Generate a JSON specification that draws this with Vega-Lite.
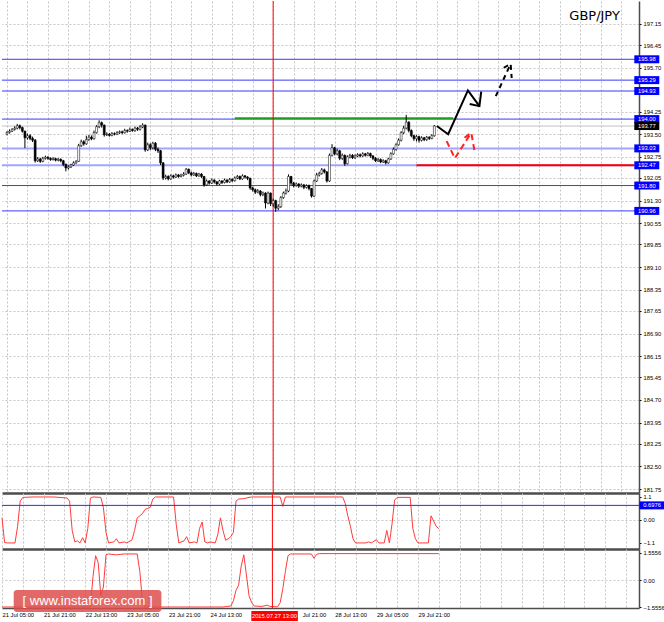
{
"$schema":"https://vega.github.io/schema/vega-lite/v6.json",
"padding":0,
"background":"#ffffff",
"spacing":0,
"bounds":"flush",
"config":{"view":{"stroke":null},"font":"Liberation Sans","axis":{"labelFont":"Liberation Sans","labelFontSize":5.8,"labelColor":"#000000","labelOverlap":false}},
"datasets":{
"candles":[
{"t":0,"o":193.50,"h":193.60,"l":193.46,"c":193.56},
{"t":1,"o":193.56,"h":193.66,"l":193.52,"c":193.60},
{"t":2,"o":193.60,"h":193.70,"l":193.57,"c":193.66},
{"t":3,"o":193.66,"h":193.76,"l":193.62,"c":193.70},
{"t":4,"o":193.70,"h":193.84,"l":193.66,"c":193.78},
{"t":5,"o":193.78,"h":193.82,"l":193.66,"c":193.72},
{"t":6,"o":193.72,"h":193.75,"l":193.55,"c":193.60},
{"t":7,"o":193.60,"h":193.62,"l":193.04,"c":193.38},
{"t":8,"o":193.38,"h":193.52,"l":193.32,"c":193.45},
{"t":9,"o":193.45,"h":193.50,"l":193.30,"c":193.36},
{"t":10,"o":193.36,"h":193.42,"l":193.24,"c":193.30},
{"t":11,"o":193.30,"h":193.34,"l":192.56,"c":192.62},
{"t":12,"o":192.62,"h":192.74,"l":192.58,"c":192.68},
{"t":13,"o":192.68,"h":192.72,"l":192.55,"c":192.60},
{"t":14,"o":192.60,"h":192.75,"l":192.57,"c":192.70},
{"t":15,"o":192.70,"h":192.79,"l":192.66,"c":192.74},
{"t":16,"o":192.74,"h":192.77,"l":192.65,"c":192.70},
{"t":17,"o":192.70,"h":192.73,"l":192.62,"c":192.66},
{"t":18,"o":192.66,"h":192.74,"l":192.63,"c":192.69},
{"t":19,"o":192.69,"h":192.72,"l":192.60,"c":192.64},
{"t":20,"o":192.64,"h":192.71,"l":192.60,"c":192.67},
{"t":21,"o":192.67,"h":192.70,"l":192.57,"c":192.62},
{"t":22,"o":192.62,"h":192.65,"l":192.44,"c":192.50},
{"t":23,"o":192.50,"h":192.53,"l":192.27,"c":192.38},
{"t":24,"o":192.38,"h":192.47,"l":192.33,"c":192.42},
{"t":25,"o":192.42,"h":192.52,"l":192.38,"c":192.48},
{"t":26,"o":192.48,"h":192.60,"l":192.45,"c":192.55},
{"t":27,"o":192.55,"h":192.64,"l":192.52,"c":192.60},
{"t":28,"o":192.60,"h":193.18,"l":192.58,"c":193.12},
{"t":29,"o":193.12,"h":193.32,"l":193.08,"c":193.25},
{"t":30,"o":193.25,"h":193.30,"l":193.12,"c":193.18},
{"t":31,"o":193.18,"h":193.45,"l":193.15,"c":193.32},
{"t":32,"o":193.32,"h":193.48,"l":193.28,"c":193.40},
{"t":33,"o":193.40,"h":193.46,"l":193.30,"c":193.35},
{"t":34,"o":193.35,"h":193.62,"l":193.32,"c":193.55},
{"t":35,"o":193.55,"h":193.80,"l":193.52,"c":193.75},
{"t":36,"o":193.75,"h":193.96,"l":193.70,"c":193.88},
{"t":37,"o":193.88,"h":193.92,"l":193.72,"c":193.80},
{"t":38,"o":193.80,"h":193.82,"l":193.42,"c":193.48},
{"t":39,"o":193.48,"h":193.56,"l":193.44,"c":193.50},
{"t":40,"o":193.50,"h":193.54,"l":193.42,"c":193.46},
{"t":41,"o":193.46,"h":193.57,"l":193.43,"c":193.52},
{"t":42,"o":193.52,"h":193.56,"l":193.46,"c":193.50},
{"t":43,"o":193.50,"h":193.60,"l":193.47,"c":193.55},
{"t":44,"o":193.55,"h":193.62,"l":193.51,"c":193.58},
{"t":45,"o":193.58,"h":193.62,"l":193.50,"c":193.55},
{"t":46,"o":193.55,"h":193.68,"l":193.52,"c":193.62},
{"t":47,"o":193.62,"h":193.66,"l":193.55,"c":193.60},
{"t":48,"o":193.60,"h":193.72,"l":193.57,"c":193.66},
{"t":49,"o":193.66,"h":193.69,"l":193.58,"c":193.62},
{"t":50,"o":193.62,"h":193.75,"l":193.58,"c":193.70},
{"t":51,"o":193.70,"h":193.74,"l":193.61,"c":193.66},
{"t":52,"o":193.66,"h":193.80,"l":193.62,"c":193.74},
{"t":53,"o":193.74,"h":193.86,"l":193.70,"c":193.80},
{"t":54,"o":193.80,"h":193.82,"l":192.92,"c":192.98},
{"t":55,"o":192.98,"h":193.22,"l":192.94,"c":193.15},
{"t":56,"o":193.15,"h":193.20,"l":192.98,"c":193.05},
{"t":57,"o":193.05,"h":193.25,"l":193.00,"c":193.20},
{"t":58,"o":193.20,"h":193.24,"l":192.94,"c":193.00},
{"t":59,"o":193.00,"h":193.06,"l":192.88,"c":192.95},
{"t":60,"o":192.95,"h":192.98,"l":192.48,"c":192.55},
{"t":61,"o":192.55,"h":192.58,"l":191.98,"c":192.05},
{"t":62,"o":192.05,"h":192.16,"l":192.00,"c":192.10},
{"t":63,"o":192.10,"h":192.14,"l":191.97,"c":192.02},
{"t":64,"o":192.02,"h":192.17,"l":191.99,"c":192.12},
{"t":65,"o":192.12,"h":192.16,"l":192.03,"c":192.08},
{"t":66,"o":192.08,"h":192.20,"l":192.05,"c":192.15},
{"t":67,"o":192.15,"h":192.18,"l":192.06,"c":192.10},
{"t":68,"o":192.10,"h":192.19,"l":192.07,"c":192.14},
{"t":69,"o":192.14,"h":192.24,"l":192.10,"c":192.18},
{"t":70,"o":192.18,"h":192.38,"l":192.15,"c":192.34},
{"t":71,"o":192.34,"h":192.36,"l":192.18,"c":192.22},
{"t":72,"o":192.22,"h":192.26,"l":192.10,"c":192.15},
{"t":73,"o":192.15,"h":192.25,"l":192.12,"c":192.20},
{"t":74,"o":192.20,"h":192.23,"l":192.08,"c":192.12},
{"t":75,"o":192.12,"h":192.22,"l":192.09,"c":192.18},
{"t":76,"o":192.18,"h":192.21,"l":192.05,"c":192.10},
{"t":77,"o":192.10,"h":192.12,"l":191.76,"c":191.82},
{"t":78,"o":191.82,"h":192.00,"l":191.79,"c":191.95},
{"t":79,"o":191.95,"h":191.98,"l":191.83,"c":191.88},
{"t":80,"o":191.88,"h":192.03,"l":191.85,"c":191.98},
{"t":81,"o":191.98,"h":192.01,"l":191.87,"c":191.92},
{"t":82,"o":191.92,"h":191.95,"l":191.80,"c":191.85},
{"t":83,"o":191.85,"h":191.99,"l":191.82,"c":191.95},
{"t":84,"o":191.95,"h":191.98,"l":191.85,"c":191.90},
{"t":85,"o":191.90,"h":192.03,"l":191.87,"c":191.98},
{"t":86,"o":191.98,"h":192.01,"l":191.88,"c":191.92},
{"t":87,"o":191.92,"h":192.05,"l":191.89,"c":192.00},
{"t":88,"o":192.00,"h":192.04,"l":191.92,"c":191.96},
{"t":89,"o":191.96,"h":192.10,"l":191.93,"c":192.05},
{"t":90,"o":192.05,"h":192.15,"l":192.01,"c":192.10},
{"t":91,"o":192.10,"h":192.13,"l":191.98,"c":192.02},
{"t":92,"o":192.02,"h":192.17,"l":191.99,"c":192.12},
{"t":93,"o":192.12,"h":192.15,"l":192.03,"c":192.08},
{"t":94,"o":192.08,"h":192.11,"l":191.98,"c":192.04},
{"t":95,"o":192.04,"h":192.06,"l":191.66,"c":191.72},
{"t":96,"o":191.72,"h":191.76,"l":191.60,"c":191.66},
{"t":97,"o":191.66,"h":191.70,"l":191.52,"c":191.58},
{"t":98,"o":191.58,"h":191.68,"l":191.54,"c":191.62},
{"t":99,"o":191.62,"h":191.65,"l":191.44,"c":191.50},
{"t":100,"o":191.50,"h":191.60,"l":191.45,"c":191.55},
{"t":101,"o":191.55,"h":191.58,"l":191.04,"c":191.22},
{"t":102,"o":191.22,"h":191.60,"l":191.18,"c":191.55},
{"t":103,"o":191.55,"h":191.57,"l":191.12,"c":191.20},
{"t":104,"o":191.20,"h":191.36,"l":191.10,"c":191.30},
{"t":105,"o":191.30,"h":191.33,"l":190.93,"c":191.05},
{"t":106,"o":191.05,"h":191.18,"l":190.98,"c":191.10},
{"t":107,"o":191.10,"h":191.45,"l":191.06,"c":191.40},
{"t":108,"o":191.40,"h":191.60,"l":191.36,"c":191.55},
{"t":109,"o":191.55,"h":191.70,"l":191.50,"c":191.62},
{"t":110,"o":191.62,"h":192.17,"l":191.58,"c":192.10},
{"t":111,"o":192.10,"h":192.12,"l":191.82,"c":191.88},
{"t":112,"o":191.88,"h":191.92,"l":191.74,"c":191.80},
{"t":113,"o":191.80,"h":191.90,"l":191.76,"c":191.85},
{"t":114,"o":191.85,"h":191.88,"l":191.72,"c":191.78},
{"t":115,"o":191.78,"h":191.87,"l":191.74,"c":191.82},
{"t":116,"o":191.82,"h":191.85,"l":191.68,"c":191.74},
{"t":117,"o":191.74,"h":191.84,"l":191.70,"c":191.80},
{"t":118,"o":191.80,"h":191.83,"l":191.64,"c":191.70},
{"t":119,"o":191.70,"h":191.72,"l":191.40,"c":191.45},
{"t":120,"o":191.45,"h":192.00,"l":191.42,"c":191.95},
{"t":121,"o":191.95,"h":192.22,"l":191.92,"c":192.15},
{"t":122,"o":192.15,"h":192.26,"l":192.10,"c":192.20},
{"t":123,"o":192.20,"h":192.38,"l":192.16,"c":192.32},
{"t":124,"o":192.32,"h":192.36,"l":192.20,"c":192.25},
{"t":125,"o":192.25,"h":192.28,"l":191.90,"c":191.95},
{"t":126,"o":191.95,"h":192.86,"l":191.92,"c":192.80},
{"t":127,"o":192.80,"h":193.17,"l":192.76,"c":193.05},
{"t":128,"o":193.05,"h":193.08,"l":192.80,"c":192.85},
{"t":129,"o":192.85,"h":193.02,"l":192.80,"c":192.95},
{"t":130,"o":192.95,"h":192.98,"l":192.64,"c":192.70},
{"t":131,"o":192.70,"h":192.86,"l":192.65,"c":192.80},
{"t":132,"o":192.80,"h":192.83,"l":192.45,"c":192.52},
{"t":133,"o":192.52,"h":192.80,"l":192.50,"c":192.75},
{"t":134,"o":192.75,"h":192.85,"l":192.70,"c":192.80},
{"t":135,"o":192.80,"h":192.84,"l":192.68,"c":192.72},
{"t":136,"o":192.72,"h":192.83,"l":192.68,"c":192.78},
{"t":137,"o":192.78,"h":192.87,"l":192.74,"c":192.82},
{"t":138,"o":192.82,"h":192.86,"l":192.73,"c":192.78},
{"t":139,"o":192.78,"h":192.90,"l":192.75,"c":192.85},
{"t":140,"o":192.85,"h":192.88,"l":192.76,"c":192.80},
{"t":141,"o":192.80,"h":192.91,"l":192.77,"c":192.86},
{"t":142,"o":192.86,"h":192.89,"l":192.72,"c":192.78},
{"t":143,"o":192.78,"h":192.81,"l":192.64,"c":192.70},
{"t":144,"o":192.70,"h":192.74,"l":192.58,"c":192.62},
{"t":145,"o":192.62,"h":192.71,"l":192.58,"c":192.66},
{"t":146,"o":192.66,"h":192.70,"l":192.54,"c":192.58},
{"t":147,"o":192.58,"h":192.67,"l":192.55,"c":192.62},
{"t":148,"o":192.62,"h":192.65,"l":192.50,"c":192.55},
{"t":149,"o":192.55,"h":192.72,"l":192.52,"c":192.68},
{"t":150,"o":192.68,"h":192.90,"l":192.65,"c":192.85},
{"t":151,"o":192.85,"h":193.06,"l":192.82,"c":193.00},
{"t":152,"o":193.00,"h":193.20,"l":192.96,"c":193.15},
{"t":153,"o":193.15,"h":193.36,"l":193.12,"c":193.30},
{"t":154,"o":193.30,"h":193.60,"l":193.26,"c":193.55},
{"t":155,"o":193.55,"h":193.78,"l":193.50,"c":193.70},
{"t":156,"o":193.70,"h":194.14,"l":193.66,"c":193.90},
{"t":157,"o":193.90,"h":193.93,"l":193.56,"c":193.62},
{"t":158,"o":193.62,"h":193.66,"l":193.40,"c":193.45},
{"t":159,"o":193.45,"h":193.48,"l":193.28,"c":193.35},
{"t":160,"o":193.35,"h":193.47,"l":193.26,"c":193.42},
{"t":161,"o":193.42,"h":193.45,"l":193.22,"c":193.30},
{"t":162,"o":193.30,"h":193.43,"l":193.26,"c":193.38},
{"t":163,"o":193.38,"h":193.41,"l":193.27,"c":193.32},
{"t":164,"o":193.32,"h":193.44,"l":193.28,"c":193.40},
{"t":165,"o":193.40,"h":193.43,"l":193.31,"c":193.36},
{"t":166,"o":193.36,"h":193.50,"l":193.33,"c":193.45},
{"t":167,"o":193.45,"h":193.80,"l":193.42,"c":193.77}
],
"levels":[
{"p":195.98,"k":"blue"},{"p":195.29,"k":"blue"},{"p":194.93,"k":"blue"},{"p":194.00,"k":"blue"},
{"p":193.77,"k":"bid"},{"p":193.03,"k":"light"},{"p":192.47,"k":"light"},{"p":191.80,"k":"blue"},{"p":190.96,"k":"blue"}
],
"segs":[{"p":192.47,"t0":160,"t1":245,"k":"red"},{"p":194.03,"t0":89,"t1":174.4,"k":"green"}],
"marker":[{"t":104}],
"ann":[
{"g":"b","s":1,"k":1,"t":167.96,"p":193.77},
{"g":"b","s":1,"k":2,"t":172.4,"p":193.50},
{"g":"b","s":1,"k":3,"t":180.1,"p":194.95},
{"g":"b","s":1,"k":4,"t":184.6,"p":194.43},
{"g":"b","s":2,"k":1,"t":180.8,"p":194.50},
{"g":"b","s":2,"k":2,"t":184.6,"p":194.43},
{"g":"b","s":2,"k":3,"t":185.3,"p":194.91},
{"g":"d","s":3,"k":1,"t":191.0,"p":194.76},
{"g":"d","s":3,"k":2,"t":196.8,"p":195.83},
{"g":"d","s":4,"k":1,"t":194.1,"p":195.70},
{"g":"d","s":4,"k":2,"t":196.8,"p":195.83},
{"g":"d","s":4,"k":3,"t":197.2,"p":195.36},
{"g":"r","s":5,"k":1,"t":171.8,"p":193.27},
{"g":"r","s":5,"k":2,"t":175.0,"p":192.70},
{"g":"r","s":5,"k":3,"t":181.4,"p":193.55},
{"g":"r","s":6,"k":1,"t":178.8,"p":193.38},
{"g":"r","s":6,"k":2,"t":181.4,"p":193.55},
{"g":"r","s":6,"k":3,"t":182.7,"p":192.94}
],
"ind1":[
{"t":0,"v":0.1},{"t":1,"v":-1.08},{"t":2,"v":-1.1},{"t":5,"v":-1.1},{"t":6,"v":-0.3},{"t":7,"v":0.9},{"t":8,"v":1.08},{"t":12,"v":1.1},{"t":20,"v":1.1},{"t":25,"v":1.05},{"t":26,"v":0.9},{"t":27,"v":-0.5},{"t":28,"v":-1.05},{"t":29,"v":-1.0},{"t":30,"v":-1.1},{"t":31,"v":-0.85},{"t":32,"v":-1.1},{"t":33,"v":-0.4},{"t":34,"v":1.05},{"t":35,"v":1.1},{"t":38,"v":1.08},{"t":39,"v":0.6},{"t":40,"v":-0.6},{"t":41,"v":-1.1},{"t":43,"v":-1.05},{"t":44,"v":-0.9},{"t":45,"v":-1.1},{"t":47,"v":-1.05},{"t":48,"v":-1.1},{"t":50,"v":-0.95},{"t":51,"v":-0.5},{"t":52,"v":0.1},{"t":53,"v":0.2},{"t":54,"v":0.3},{"t":55,"v":0.5},{"t":56,"v":0.55},{"t":57,"v":0.6},{"t":58,"v":1.0},{"t":59,"v":1.1},{"t":66,"v":1.1},{"t":67,"v":-0.2},{"t":68,"v":-1.1},{"t":70,"v":-1.0},{"t":71,"v":-0.8},{"t":72,"v":-1.1},{"t":74,"v":-1.05},{"t":75,"v":-1.1},{"t":76,"v":-0.4},{"t":77,"v":-0.1},{"t":78,"v":-1.05},{"t":79,"v":-1.1},{"t":80,"v":-1.05},{"t":82,"v":-1.1},{"t":83,"v":-0.7},{"t":84,"v":0.1},{"t":85,"v":-0.5},{"t":86,"v":-0.97},{"t":87,"v":-0.9},{"t":88,"v":-0.8},{"t":89,"v":-0.6},{"t":90,"v":0.9},{"t":91,"v":1.0},{"t":93,"v":1.02},{"t":95,"v":1.08},{"t":96,"v":1.1},{"t":107,"v":1.1},{"t":108,"v":0.65},{"t":109,"v":1.1},{"t":131,"v":1.1},{"t":132,"v":0.8},{"t":133,"v":0.2},{"t":134,"v":-0.3},{"t":135,"v":-0.9},{"t":136,"v":-1.1},{"t":140,"v":-1.1},{"t":141,"v":-1.05},{"t":142,"v":-1.1},{"t":144,"v":-0.95},{"t":145,"v":-1.1},{"t":147,"v":-1.1},{"t":148,"v":-0.5},{"t":149,"v":-1.1},{"t":150,"v":-0.2},{"t":151,"v":0.95},{"t":152,"v":1.08},{"t":157,"v":1.08},{"t":158,"v":-0.4},{"t":159,"v":-0.9},{"t":160,"v":-1.1},{"t":164,"v":-1.1},{"t":165,"v":0.2},{"t":166,"v":-0.05},{"t":167,"v":-0.3},{"t":168,"v":-0.42}
],
"ind2":[
{"t":0,"v":-1.5556},{"t":34,"v":-1.5556},{"t":35,"v":0.2},{"t":36,"v":1.4},{"t":37,"v":1.0},{"t":38,"v":-0.9},{"t":39,"v":-0.4},{"t":40,"v":1.45},{"t":41,"v":1.5},{"t":44,"v":1.45},{"t":47,"v":1.5},{"t":52,"v":1.5},{"t":53,"v":0.5},{"t":54,"v":-1.2},{"t":55,"v":-1.5556},{"t":85,"v":-1.5556},{"t":86,"v":-1.53},{"t":88,"v":-1.5},{"t":89,"v":-1.2},{"t":90,"v":-0.6},{"t":91,"v":-0.3},{"t":92,"v":0.8},{"t":93,"v":1.45},{"t":94,"v":0.3},{"t":95,"v":-0.9},{"t":96,"v":-1.3},{"t":97,"v":-1.5},{"t":100,"v":-1.52},{"t":102,"v":-1.45},{"t":103,"v":-1.52},{"t":106,"v":-1.55},{"t":107,"v":-1.3},{"t":108,"v":-0.5},{"t":109,"v":0.5},{"t":110,"v":1.4},{"t":111,"v":1.5},{"t":119,"v":1.5},{"t":120,"v":1.25},{"t":121,"v":1.48},{"t":122,"v":1.52},{"t":168,"v":1.52}
]
},
"vconcat":[
{
"width":637,"height":492,
"layer":[
{"data":{"name":"levels"},"transform":[{"filter":"datum.k=='bid'"}],"mark":{"type":"rule","color":"#c4c4c4","strokeWidth":1},
 "encoding":{
  "y":{"field":"p","type":"quantitative","title":null,"scale":{"domain":[181.62,197.91],"nice":false,"zero":false},
   "axis":{"orient":"right","values":[197.15,196.45,195.70,194.25,193.50,192.75,192.05,191.30,190.55,189.85,189.10,188.35,187.65,186.90,186.15,185.45,184.70,183.95,183.25,182.50,181.75],"tickCount":500,"labelExpr":"format(datum.value,'.2f')","grid":true,"gridColor":"#c4c4c4","gridDash":[2,2],"ticks":true,"tickSize":2,"tickColor":"#000000","domain":true,"domainColor":"#4d4d4d","domainWidth":1.5,"labelPadding":2,"labelOverlap":false,"labelFlush":false,"labelBound":false,"title":null}}
 }},
{"data":{"name":"levels"},"transform":[{"filter":"datum.k=='light'"}],"mark":{"type":"rule","color":"#a4a4ff","strokeWidth":2},
 "encoding":{"y":{"field":"p","type":"quantitative","title":null}}},
{"data":{"name":"levels"},"transform":[{"filter":"datum.k=='blue'"}],"mark":{"type":"rule","color":"#3a3aff","strokeWidth":1},
 "encoding":{"y":{"field":"p","type":"quantitative","title":null}}},
{"data":{"name":"segs"},"mark":{"type":"rule","strokeWidth":2},
 "encoding":{"x":{"field":"t0","type":"quantitative","title":null},"x2":{"field":"t1"},"y":{"field":"p","type":"quantitative","title":null},
  "color":{"condition":{"test":"datum.k=='red'","value":"#ff0000"},"value":"#1f9e1f"}}},
{"data":{"name":"marker"},"mark":{"type":"rule","color":"#ff0000","strokeWidth":1},
 "encoding":{"x":{"field":"t","type":"quantitative","title":null}}},
{"data":{"name":"candles"},"mark":{"type":"rule","color":"#000000","strokeWidth":1,"clip":true},
 "encoding":{
  "x":{"field":"t","type":"quantitative","title":null,"scale":{"domain":[0,245],"nice":false,"zero":false},
   "axis":{"orient":"bottom","values":[0,8,16,24,32,40,48,56,64,72,80,88,96,104,112,120,128,136,144,152,160,168,176,184,192,200,208,216,224,232,240],"tickCount":500,"grid":true,"gridColor":"#c4c4c4","gridDash":[2,2],"labels":false,"ticks":false,"domain":true,"domainColor":"#4d4d4d","domainWidth":2.5,"title":null}},
  "y":{"field":"l","type":"quantitative","title":null},"y2":{"field":"h"}}},
{"data":{"name":"candles"},"mark":{"type":"bar","size":2,"stroke":"#000000","strokeWidth":0.5,"clip":true},
 "encoding":{"x":{"field":"t","type":"quantitative","title":null},"y":{"field":"o","type":"quantitative","title":null},"y2":{"field":"c"},
  "fill":{"condition":{"test":"datum.c < datum.o","value":"#000000"},"value":"#ffffff"}}},
{"data":{"name":"ann"},"transform":[{"filter":"datum.g=='b'"}],"mark":{"type":"line","color":"#000000","strokeWidth":2},
 "encoding":{"x":{"field":"t","type":"quantitative","title":null},"y":{"field":"p","type":"quantitative","title":null},"detail":{"field":"s"},"order":{"field":"k"}}},
{"data":{"name":"ann"},"transform":[{"filter":"datum.g=='d'"}],"mark":{"type":"line","color":"#000000","strokeWidth":2,"strokeDash":[5,4]},
 "encoding":{"x":{"field":"t","type":"quantitative","title":null},"y":{"field":"p","type":"quantitative","title":null},"detail":{"field":"s"},"order":{"field":"k"}}},
{"data":{"name":"ann"},"transform":[{"filter":"datum.g=='r'"}],"mark":{"type":"line","color":"#ff2020","strokeWidth":2,"strokeDash":[6,4]},
 "encoding":{"x":{"field":"t","type":"quantitative","title":null},"y":{"field":"p","type":"quantitative","title":null},"detail":{"field":"s"},"order":{"field":"k"}}},
{"data":{"name":"levels"},"mark":{"type":"point","shape":"M-1,-0.32L1,-0.32L1,0.32L-1,0.32Z","size":625,"filled":true,"opacity":1,"strokeWidth":0},
 "encoding":{"x":{"datum":250,"type":"quantitative"},"y":{"field":"p","type":"quantitative","title":null},
  "fill":{"condition":{"test":"datum.k=='bid'","value":"#000000"},"value":"#0000ff"}}},
{"data":{"name":"levels"},"mark":{"type":"text","color":"#ffffff","fontSize":5.8,"align":"center","baseline":"middle","font":"Liberation Sans"},
 "encoding":{"x":{"datum":250,"type":"quantitative"},"y":{"field":"p","type":"quantitative","title":null},"text":{"field":"p","type":"quantitative","format":".2f"}}},
{"data":{"values":[{"name":"GBP/JPY"}]},"mark":{"type":"text","color":"#000000","fontSize":13,"font":"DejaVu Sans","align":"center","baseline":"middle"},
 "encoding":{"x":{"datum":229.6,"type":"quantitative"},"y":{"datum":197.41,"type":"quantitative"},"text":{"field":"name"}}}
]
},
{
"width":637,"height":56,
"layer":[
{"data":{"name":"ind1"},"mark":{"type":"line","color":"#ff3b3b","strokeWidth":1},
 "encoding":{
  "x":{"field":"t","type":"quantitative","title":null,"scale":{"domain":[0,245],"nice":false,"zero":false},
   "axis":{"orient":"bottom","values":[0,8,16,24,32,40,48,56,64,72,80,88,96,104,112,120,128,136,144,152,160,168,176,184,192,200,208,216,224,232,240],"tickCount":500,"grid":true,"gridColor":"#c4c4c4","gridDash":[2,2],"labels":false,"ticks":false,"domain":true,"domainColor":"#4d4d4d","domainWidth":2.5,"title":null}},
  "y":{"field":"v","type":"quantitative","title":null,"scale":{"domain":[-1.39,1.29],"nice":false,"zero":false},
   "axis":{"orient":"right","values":[1.1,0,-1.1],"tickCount":500,"labelExpr":"datum.value==0?'0.00':format(datum.value,'.1f')","grid":true,"gridColor":"#c4c4c4","gridDash":[2,2],"gridOpacity":{"condition":{"test":"datum.value===0","value":1},"value":0},"ticks":true,"tickSize":2,"tickColor":"#000000","domain":true,"domainColor":"#4d4d4d","domainWidth":1.5,"labelPadding":2,"labelOverlap":false,"labelFlush":false,"labelBound":false,"title":null}}
 }},
{"data":{"values":[{"v":0.6976}]},"mark":{"type":"rule","color":"#2a2aff","strokeWidth":1},
 "encoding":{"y":{"field":"v","type":"quantitative","title":null}}},
{"data":{"name":"marker"},"mark":{"type":"rule","color":"#ff0000","strokeWidth":1},
 "encoding":{"x":{"field":"t","type":"quantitative","title":null}}},
{"data":{"values":[{"v":0.6976}]},"mark":{"type":"point","shape":"M-1,-0.32L1,-0.32L1,0.32L-1,0.32Z","size":625,"filled":true,"opacity":1,"color":"#0000ff","strokeWidth":0},
 "encoding":{"x":{"datum":250,"type":"quantitative"},"y":{"field":"v","type":"quantitative","title":null}}},
{"data":{"values":[{"v":0.6976}]},"mark":{"type":"text","color":"#ffffff","fontSize":5.8,"align":"center","baseline":"middle"},
 "encoding":{"x":{"datum":250,"type":"quantitative"},"y":{"field":"v","type":"quantitative","title":null},"text":{"field":"v","type":"quantitative","format":".4f"}}}
]
},
{
"width":637,"height":59,
"layer":[
{"data":{"name":"ind2"},"mark":{"type":"line","color":"#ff3b3b","strokeWidth":1},
 "encoding":{
  "x":{"field":"t","type":"quantitative","title":null,"scale":{"domain":[0,245],"nice":false,"zero":false},
   "axis":{"orient":"bottom","values":[0,8,16,24,32,40,48,56,64,72,80,88,96,104,112,120,128,136,144,152,160,168,176,184,192,200,208,216,224,232,240],"tickCount":500,"grid":true,"gridColor":"#c4c4c4","gridDash":[2,2],"labels":true,"labelExpr":"['21 Jul 05:00','','21 Jul 21:00','','22 Jul 13:00','','23 Jul 05:00','','23 Jul 21:00','','24 Jul 13:00','','','','Jul 21:00','','28 Jul 13:00','','29 Jul 05:00','','29 Jul 21:00'][datum.value/8] || ''","labelOffset":{"condition":{"test":"datum.value===112","value":9},"value":0},"labelAlign":"left","labelBaseline":"top","labelPadding":3,"labelOverlap":false,"labelFlush":false,"labelBound":false,"ticks":false,"domain":true,"domainColor":"#4d4d4d","domainWidth":1.5,"title":null}},
  "y":{"field":"v","type":"quantitative","title":null,"scale":{"domain":[-1.613,1.786],"nice":false,"zero":false},
   "axis":{"orient":"right","values":[1.5556,0,-1.5556],"tickCount":500,"labelExpr":"datum.value==0?'0.00':format(datum.value,'.4f')","grid":true,"gridColor":"#c4c4c4","gridDash":[2,2],"gridOpacity":{"condition":{"test":"datum.value===0","value":1},"value":0},"ticks":true,"tickSize":2,"tickColor":"#000000","domain":true,"domainColor":"#4d4d4d","domainWidth":1.5,"labelPadding":2,"labelOverlap":false,"labelFlush":false,"labelBound":false,"title":null}}
 }},
{"data":{"name":"marker"},"mark":{"type":"rule","color":"#ff0000","strokeWidth":1},
 "encoding":{"x":{"field":"t","type":"quantitative","title":null}}},
{"data":{"values":[{"label":"2015.07.27 13:00"}]},"mark":{"type":"rect","color":"#ff0000"},
 "encoding":{"x":{"datum":95.9,"type":"quantitative"},"x2":{"datum":113.8},"y":{"datum":-1.785,"type":"quantitative"},"y2":{"datum":-2.362}}},
{"data":{"values":[{"label":"2015.07.27 13:00"}]},"mark":{"type":"text","color":"#ffffff","fontSize":5.8,"align":"center","baseline":"middle"},
 "encoding":{"x":{"datum":104.8,"type":"quantitative"},"y":{"datum":-2.073,"type":"quantitative"},"text":{"field":"label"}}},
{"data":{"values":[{"label":"[ www.instaforex.com ]"}]},"mark":{"type":"rect","color":"#de4f4f","opacity":0.85,"cornerRadius":3},
 "encoding":{"x":{"datum":4.5,"type":"quantitative"},"x2":{"datum":61.3},"y":{"datum":-0.576,"type":"quantitative"},"y2":{"datum":-1.843}}},
{"data":{"values":[{"label":"[ www.instaforex.com ]"}]},"mark":{"type":"text","color":"#ffffff","fontSize":13,"align":"center","baseline":"middle","font":"Liberation Sans"},
 "encoding":{"x":{"datum":32.9,"type":"quantitative"},"y":{"datum":-1.21,"type":"quantitative"},"text":{"field":"label"}}}
]
}
]
}
